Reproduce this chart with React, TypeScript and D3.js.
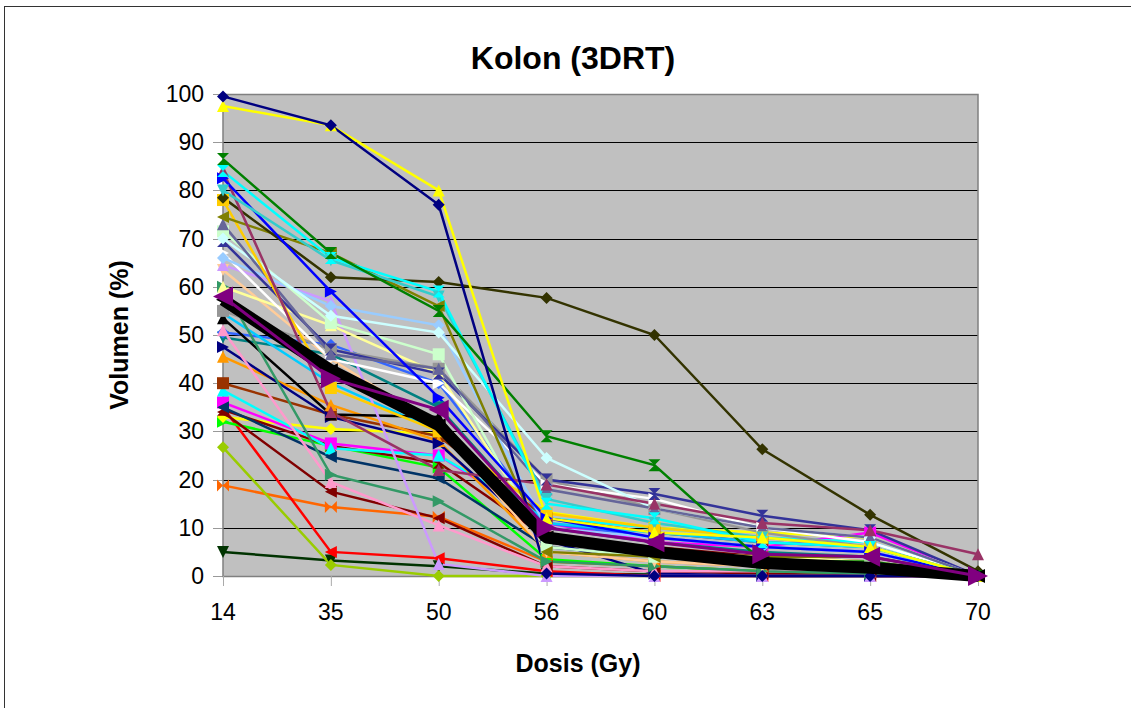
import React from "react";
import * as d3 from "d3";

const categories = ["14", "35", "50", "56", "60", "63", "65", "70"];
const yTicks = [0, 10, 20, 30, 40, 50, 60, 70, 80, 90, 100];

type Series = { color: string; marker: string; values: number[] };

const sNavy = [99.5, 93.5, 77, 0.5, 0, 0, 0, 0];
const sYellow = [97.5, 93.5, 80, 12, 9, 8, 6, 0];
const sGreen = [86.5, 67, 55, 29, 23, 3, 3, 0];
const sCyan = [84, 66, 59, 15, 12, 7, 6, 0];
const sTurq = [80, 65.5, 58, 16, 11, 8, 6, 0];
const sBlue = [82.5, 59, 37, 12, 8, 6, 5, 0];
const sMauve = [84, 34, 22, 19, 15, 11, 9.5, 4.5];
const sDarkOlive = [78.5, 62, 61, 57.7, 50, 26.3, 12.7, 1];
const sOlive = [74.5, 67, 56, 5, 4, 4, 4, 0];
const sGold = [78, 39, 30, 13, 10, 8, 6, 0];
const sSlate = [73, 46, 43, 18, 14, 10, 8, 0];
const sLightGreen = [71.5, 52.5, 46, 6, 4, 3, 2, 0];
const sDarkSlate = [69.5, 47, 42, 20, 17, 12.5, 9.5, 0];
const sPaleBlue = [66, 56, 52, 10, 8, 6, 5, 0];
const sWhite = [67, 45, 40, 19, 16, 10, 7, 0];
const sLavender = [64.5, 57, 2.5, 0, 0, 0, 0, 0];
const sTan = [63.5, 45, 31, 5, 3, 2, 1, 0];
const sSeaGreen = [60, 21, 15.5, 3, 2, 1, 0.5, 0];
const sBlackThin = [53.5, 33.5, 33, 7, 5, 3, 2, 0];
const sSky = [54.5, 40, 30, 11, 9, 7, 6, 0];
const sPink = [51, 19.5, 10.5, 2, 1, 1, 1, 0];
const sRoyal = [50.5, 48, 40, 11, 8, 6, 5, 0];
const sTeal = [49.5, 46, 35, 10, 7, 5, 4, 0];
const sNavy2 = [47.5, 33, 27.5, 7.5, 0.5, 0, 0, 0];
const sOrange = [45.5, 35.5, 28, 5, 3, 2, 1, 0];
const sBrown = [40, 33.5, 29, 12, 9, 7, 6, 0];
const sCyan2 = [38.5, 26.5, 25, 12, 10, 8, 7, 0];
const sMagenta = [36, 27.5, 25, 11, 7, 6, 9, 0];
const sMaroon = [34.5, 27, 23.5, 8, 6, 4, 3, 0];
const sMaroon2 = [34, 17.5, 12, 2, 1, 0.5, 0, 0];
const sYellowDia = [33, 30.5, 29.5, 13.3, 10, 9, 8, 0];
const sLime = [32, 27, 22.5, 3.5, 2, 1, 0.5, 0];
const sRed = [35, 5, 3.7, 1, 0, 0, 0, 0];
const sYellowGreen = [26.7, 2.3, 0, 0, 0, 0, 0, 0];
const sOrangeRed = [18.8, 14.3, 12.3, 3, 2, 1, 0.5, 0];
const sDarkGreen = [5, 3.2, 2, 0.5, 0.3, 0, 0, 0];
const sLightTurq = [70, 54, 50.5, 24.5, 14, 10, 8, 0];
const sGray = [55, 47, 43, 20, 14, 9, 6, 0];
const sDarkBlue = [35, 24.7, 20.3, 6, 4, 3, 2, 0];
const sLightYellow = [60, 52, 42, 8, 5, 4, 3, 0];
const sPurple = [58, 41, 34.5, 10, 7, 4.5, 4, 0];
const sMean = [57.3, 42.7, 31.3, 8, 5, 2.7, 1.7, 0];

const series: Series[] = [
  { color: "#003300", marker: "down", values: sDarkGreen },
  { color: "#FF6600", marker: "bowtie", values: sOrangeRed },
  { color: "#99CC00", marker: "diamond", values: sYellowGreen },
  { color: "#FF0000", marker: "left", values: sRed },
  { color: "#00FF00", marker: "right", values: sLime },
  { color: "#FFFF00", marker: "diamond", values: sYellowDia },
  { color: "#800000", marker: "left", values: sMaroon2 },
  { color: "#800000", marker: "sandglass", values: sMaroon },
  { color: "#FF00FF", marker: "square", values: sMagenta },
  { color: "#00FFFF", marker: "up", values: sCyan2 },
  { color: "#993300", marker: "square", values: sBrown },
  { color: "#FF9900", marker: "up", values: sOrange },
  { color: "#003366", marker: "left", values: sDarkBlue },
  { color: "#000080", marker: "right", values: sNavy2 },
  { color: "#008080", marker: "down", values: sTeal },
  { color: "#3366FF", marker: "diamond", values: sRoyal },
  { color: "#FF99CC", marker: "up", values: sPink },
  { color: "#00CCFF", marker: "diamond", values: sSky },
  { color: "#000000", marker: "up", values: sBlackThin },
  { color: "#339966", marker: "right", values: sSeaGreen },
  { color: "#FFCC99", marker: "down", values: sTan },
  { color: "#CC99FF", marker: "up", values: sLavender },
  { color: "#FFFF99", marker: "up", values: sLightYellow },
  { color: "#969696", marker: "square", values: sGray },
  { color: "#FFFFFF", marker: "right", values: sWhite },
  { color: "#99CCFF", marker: "diamond", values: sPaleBlue },
  { color: "#333399", marker: "sandglass", values: sDarkSlate },
  { color: "#CCFFCC", marker: "square", values: sLightGreen },
  { color: "#CCFFFF", marker: "diamond", values: sLightTurq },
  { color: "#666699", marker: "up", values: sSlate },
  { color: "#FFCC00", marker: "square", values: sGold },
  { color: "#808000", marker: "left", values: sOlive },
  { color: "#333300", marker: "diamond", values: sDarkOlive },
  { color: "#993366", marker: "up", values: sMauve },
  { color: "#0000FF", marker: "right", values: sBlue },
  { color: "#33CCCC", marker: "down", values: sTurq },
  { color: "#00FFFF", marker: "sandglass", values: sCyan },
  { color: "#008000", marker: "sandglass", values: sGreen },
  { color: "#FFFF00", marker: "up", values: sYellow },
  { color: "#000080", marker: "diamond", values: sNavy },
];

const markerPath = (m: string, s: number) => {
  switch (m) {
    case "diamond":
      return `M0,${-s}L${s},0L0,${s}L${-s},0Z`;
    case "square":
      return `M${-s},${-s}H${s}V${s}H${-s}Z`;
    case "up":
      return `M0,${-s}L${s},${s}L${-s},${s}Z`;
    case "down":
      return `M${-s},${-s}L${s},${-s}L0,${s}Z`;
    case "right":
      return `M${-s},${-s}L${s},0L${-s},${s}Z`;
    case "left":
      return `M${s},${-s}L${-s},0L${s},${s}Z`;
    case "bowtie":
      return `M${-s},${-s}L0,0L${-s},${s}ZM${s},${-s}L0,0L${s},${s}Z`;
    case "sandglass":
      return `M${-s},${-s}L${s},${-s}L0,0ZM${-s},${s}L${s},${s}L0,0Z`;
    default:
      return "";
  }
};

export default function App() {
  const W = 1131;
  const H = 708;
  const left = 223;
  const right = 978;
  const top = 94;
  const bottom = 576;
  const x = d3.scalePoint<string>().domain(categories).range([left, right]).padding(0);
  const y = d3.scaleLinear().domain([0, 100]).range([bottom, top]);
  const line = d3
    .line<number>()
    .x((_, i) => x(categories[i]) as number)
    .y((d) => y(d));
  const font = "'Liberation Sans', Arial, sans-serif";

  return (
    <svg
      width={W}
      height={H}
      style={{ position: "absolute", left: 0, top: 0, background: "#fff" }}
      fontFamily={font}
    >
      <rect x={4.5} y={6.5} width={1140} height={720} fill="#fff" stroke="#333" strokeWidth={1} />
      <text x={573} y={69} textAnchor="middle" fontSize={32} fontWeight="bold">
        Kolon (3DRT)
      </text>
      <rect x={left} y={top} width={right - left} height={bottom - top} fill="#C0C0C0" />
      {yTicks.map((t) => (
        <g key={t}>
          {t > 0 && t < 100 && (
            <line x1={left} x2={right} y1={Math.round(y(t)) + 0.5} y2={Math.round(y(t)) + 0.5} stroke="#000" strokeWidth={1} />
          )}
          <line x1={left - 10} x2={left} y1={Math.round(y(t)) + 0.5} y2={Math.round(y(t)) + 0.5} stroke="#999" />
          <text x={204} y={y(t) + 8} textAnchor="end" fontSize={23}>
            {t}
          </text>
        </g>
      ))}
      <rect x={left} y={top + 0.5} width={right - left} height={bottom - top} fill="none" stroke="#808080" strokeWidth={1.5} />
      {categories.map((c) => (
        <g key={c}>
          <line x1={(x(c) as number) + 0.5} x2={(x(c) as number) + 0.5} y1={bottom} y2={bottom + 10} stroke="#aaa" />
          <text x={x(c)} y={620} textAnchor="middle" fontSize={23}>
            {c}
          </text>
        </g>
      ))}
      <g>
        {series.map((s, i) => (
          <path key={i} d={line(s.values) || ""} fill="none" stroke={s.color} strokeWidth={2.5} />
        ))}
        {series.map((s, i) => (
          <g key={"m" + i}>
            {s.values.map((v, j) => (
              <path
                key={j}
                d={markerPath(s.marker, 6)}
                transform={`translate(${x(categories[j])},${y(v)})`}
                fill={s.color}
              />
            ))}
          </g>
        ))}
        <path d={line(sMean) || ""} fill="none" stroke="#000" strokeWidth={12} strokeLinejoin="round" />
        {sMean.map((v, j) => (
          <path key={"mm" + j} d={markerPath("left", 7)} transform={`translate(${x(categories[j])},${y(v)})`} fill="#000" />
        ))}
        <path d={line(sPurple) || ""} fill="none" stroke="#800080" strokeWidth={3} />
        {sPurple.map((v, j) => (
          <path
            key={"pm" + j}
            d={markerPath(j % 2 === 0 ? "left" : "right", 10)}
            transform={`translate(${x(categories[j])},${y(v)})`}
            fill="#800080"
          />
        ))}
      </g>
      <text
        transform={`translate(128,335) rotate(-90)`}
        textAnchor="middle"
        fontSize={25}
        fontWeight="bold"
      >
        Volumen (%)
      </text>
      <text x={578} y={672} textAnchor="middle" fontSize={25} fontWeight="bold">
        Dosis (Gy)
      </text>
    </svg>
  );
}
